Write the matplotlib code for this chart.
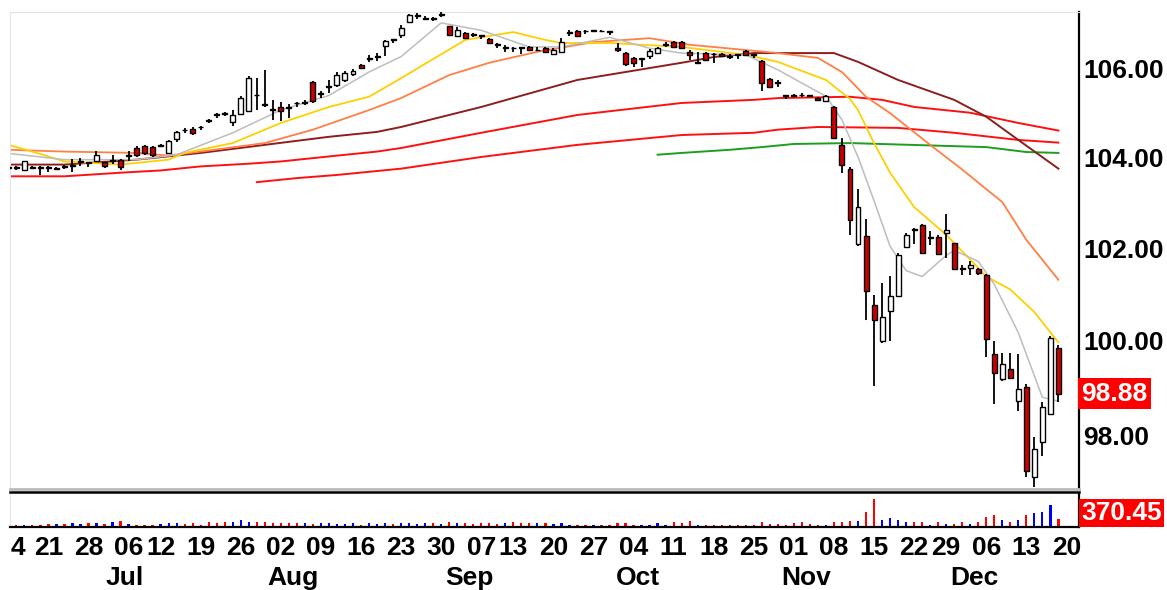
import numpy as np
import pandas as pd
import matplotlib
matplotlib.use("Agg")
import matplotlib.pyplot as plt
from matplotlib.lines import Line2D
from matplotlib.transforms import blended_transform_factory

# trading sessions Jun 14 - Dec 17 2010 (+ Dec 20 for the last axis label)
days = pd.bdate_range("2010-06-14", "2010-12-20")
days = days[~days.isin(pd.to_datetime(["2010-07-05", "2010-09-06", "2010-11-25"]))]

opens = [103.80, 103.79, 103.72, 103.80, 103.80, 103.80, 103.76, 103.82, 103.81, 103.90,
         103.90, 103.93, 103.90, 103.94, 103.96, 104.04, 104.22, 104.26, 104.24, 104.26,
         104.10, 104.42, 104.63, 104.64, 104.70, 104.85, 104.98, 105.00, 104.81, 104.98,
         105.06, 105.42, 105.21, 105.10, 105.13, 105.14, 105.24, 105.24, 105.70, 105.43,
         105.60, 105.64, 105.75, 105.88, 106.10, 106.23, 106.27, 106.52, 106.68, 106.78,
         107.06, 107.20, 107.15, 107.17, 107.23, 106.97, 106.74, 106.81, 106.80, 106.77,
         106.68, 106.57, 106.48, 106.48, 106.49, 106.51, 106.42, 106.47, 106.33, 106.39,
         106.82, 106.86, 106.87, 106.86, 106.87, 106.86, 106.48, 106.37, 106.24, 106.22,
         106.29, 106.36, 106.54, 106.62, 106.62, 106.39, 106.14, 106.36, 106.35, 106.35,
         106.30, 106.33, 106.40, 106.33, 106.17, 105.77, 105.70, 105.40, 105.40, 105.42,
         105.40, 105.34, 105.27, 105.14, 104.29, 103.76, 102.09, 102.28, 100.78, 100.00,
         100.64, 100.97, 102.04, 102.42, 102.51, 102.24, 102.25, 102.33, 102.11, 101.58,
         101.58, 101.55, 101.42, 99.72, 99.20, 99.41, 98.72, 99.01, 97.13, 97.86,
         98.45, 99.86]
highs = [103.82, 103.81, 103.94, 103.82, 103.81, 103.81, 103.80, 103.83, 103.98, 104.00,
         103.91, 104.16, 103.91, 104.07, 103.98, 104.15, 104.26, 104.28, 104.26, 104.32,
         104.40, 104.60, 104.66, 104.68, 104.72, 104.87, 105.00, 105.02, 105.07, 105.38,
         105.84, 105.79, 105.98, 105.30, 105.26, 105.20, 105.26, 105.30, 105.72, 105.50,
         105.76, 105.92, 105.95, 106.00, 106.12, 106.32, 106.36, 106.65, 106.69, 107.00,
         107.26, 107.28, 107.20, 107.18, 107.29, 106.99, 106.95, 106.83, 106.81, 106.78,
         106.70, 106.58, 106.55, 106.49, 106.50, 106.53, 106.50, 106.49, 106.47, 106.70,
         106.88, 106.88, 106.88, 106.89, 106.88, 106.87, 106.58, 106.39, 106.26, 106.25,
         106.45, 106.50, 106.62, 106.64, 106.64, 106.42, 106.38, 106.38, 106.36, 106.37,
         106.34, 106.34, 106.42, 106.34, 106.20, 105.79, 105.75, 105.41, 105.44, 105.46,
         105.41, 105.36, 105.40, 105.16, 104.44, 103.80, 103.30, 102.64, 100.98, 101.25,
         101.40, 101.90, 102.35, 102.44, 102.53, 102.38, 102.30, 102.75, 102.13, 101.65,
         101.72, 101.58, 101.44, 100.00, 99.75, 99.75, 99.72, 99.08, 97.96, 98.70,
         100.10, 99.92]
lows = [103.70, 103.72, 103.70, 103.75, 103.63, 103.68, 103.73, 103.76, 103.68, 103.82,
        103.80, 103.90, 103.78, 103.86, 103.74, 103.93, 104.03, 104.06, 104.02, 104.25,
        104.08, 104.35, 104.55, 104.50, 104.62, 104.78, 104.90, 104.93, 104.72, 104.96,
        105.04, 105.08, 105.15, 104.85, 104.82, 104.90, 105.15, 105.18, 105.22, 105.35,
        105.46, 105.60, 105.70, 105.85, 106.00, 106.15, 106.18, 106.30, 106.60, 106.70,
        107.04, 107.13, 107.13, 107.10, 107.18, 106.76, 106.72, 106.68, 106.72, 106.68,
        106.56, 106.48, 106.38, 106.38, 106.35, 106.41, 106.40, 106.37, 106.31, 106.37,
        106.76, 106.72, 106.80, 106.84, 106.84, 106.78, 106.38, 106.06, 106.05, 106.05,
        106.22, 106.33, 106.50, 106.48, 106.45, 106.20, 106.12, 106.18, 106.14, 106.27,
        106.22, 106.22, 106.30, 106.24, 105.49, 105.57, 105.60, 105.32, 105.36, 105.36,
        105.36, 105.27, 105.25, 104.42, 103.67, 102.29, 102.05, 100.44, 99.05, 99.96,
        100.00, 100.95, 102.02, 102.10, 101.88, 102.07, 101.86, 101.79, 101.54, 101.43,
        101.43, 101.43, 99.66, 98.65, 99.15, 99.20, 98.51, 97.13, 96.92, 97.56,
        98.43, 98.71]
closes = [103.78, 103.78, 103.92, 103.77, 103.78, 103.78, 103.77, 103.79, 103.83, 103.92,
          103.89, 104.07, 103.82, 103.96, 103.80, 104.07, 104.07, 104.11, 104.07, 104.29,
          104.37, 104.57, 104.62, 104.56, 104.68, 104.83, 104.96, 104.98, 104.96, 105.35,
          105.80, 105.40, 105.19, 105.08, 105.06, 105.12, 105.22, 105.26, 105.28, 105.45,
          105.62, 105.87, 105.90, 105.95, 106.03, 106.25, 106.29, 106.63, 106.66, 106.93,
          107.24, 107.22, 107.16, 107.15, 107.25, 106.78, 106.89, 106.70, 106.78, 106.75,
          106.58, 106.55, 106.49, 106.47, 106.48, 106.43, 106.43, 106.39, 106.43, 106.62,
          106.83, 106.76, 106.86, 106.88, 106.86, 106.84, 106.44, 106.11, 106.13, 106.24,
          106.41, 106.47, 106.56, 106.49, 106.47, 106.32, 106.16, 106.20, 106.33, 106.29,
          106.28, 106.31, 106.32, 106.31, 105.68, 105.59, 105.68, 105.38, 105.39, 105.41,
          105.39, 105.29, 105.38, 104.44, 103.85, 102.62, 102.91, 101.07, 100.45, 100.52,
          100.97, 101.85, 102.29, 102.40, 101.90, 102.26, 101.88, 102.40, 101.56, 101.56,
          101.63, 101.47, 100.04, 99.31, 99.50, 99.22, 98.97, 97.25, 97.71, 98.59,
          100.07, 98.88]
volume = [90, 110, 80, 120, 100, 130, 150, 140, 170, 160,
          180, 190, 150, 230, 300, 140, 100, 110, 120, 140,
          180, 200, 150, 170, 120, 220, 200, 230, 260, 330,
          250, 240, 230, 210, 200, 190, 170, 210, 160, 180,
          200, 150, 160, 190, 120, 170, 150, 190, 150, 200,
          210, 160, 190, 170, 150, 230, 200, 190, 150, 170,
          180, 160, 200, 220, 200, 210, 180, 190, 150, 200,
          120, 100,
          82, 82, 82, 115, 197, 197, 82, 82, 115, 197,
          82, 246, 197, 279, 82, 82, 82, 82, 82, 82,
          82, 82, 246, 164, 164, 115, 197, 246, 164, 82,
          82, 246, 246, 279, 279, 738, 1345, 361, 443, 361,
          246, 246, 246, 82, 246, 164, 164, 246, 164, 246,
          492, 574, 361, 246, 361, 574, 656, 738, 1066, 370.45]

gray_idx = [0, 7, 16, 21, 28, 34, 40, 45, 49, 54, 59, 65, 69, 75, 80, 84, 92, 96, 102, 104,
            106, 108, 110, 112, 114, 117, 118, 121, 123, 126, 129, 131]
gray_val = [104.10, 103.96, 103.96, 104.07, 104.56, 105.07, 105.40, 105.93, 106.28, 107.05,
            106.88, 106.50, 106.50, 106.72, 106.47, 106.36, 106.32, 105.98, 105.38, 104.85,
            104.02, 103.05, 102.05, 101.52, 101.39, 101.85, 101.96, 101.72, 101.22, 100.18,
            98.80, 98.72]
yellow_idx = [0, 3, 7, 14, 20, 22, 28, 34, 40, 45, 49, 57, 63, 67, 69, 75, 84, 92, 96, 102,
              105, 106, 108, 110, 113, 117, 120, 122, 125, 128, 131]
yellow_val = [104.29, 104.14, 103.92, 103.85, 103.96, 104.11, 104.33, 104.78, 105.14, 105.37,
              105.79, 106.66, 106.84, 106.66, 106.59, 106.59, 106.50, 106.32, 106.16, 105.75,
              105.32, 105.07, 104.33, 103.67, 102.91, 102.30, 101.76, 101.39, 101.11, 100.62,
              99.97]
orange_idx = [0, 7, 16, 20, 24, 32, 38, 45, 49, 55, 60, 66, 73, 80, 85, 92, 96, 101, 104, 107,
              110, 115, 119, 121, 124, 127, 131]
orange_val = [104.18, 104.14, 104.11, 104.05, 104.14, 104.33, 104.63, 105.07, 105.34, 105.86,
              106.14, 106.39, 106.61, 106.70, 106.55, 106.43, 106.36, 106.25, 105.93, 105.37,
              105.00, 104.29, 103.74, 103.45, 103.02, 102.19, 101.32]
darkred_idx = [0, 7, 16, 24, 32, 40, 46, 49, 59, 71, 84, 88, 93, 103, 106, 111, 118, 122, 126, 131]
darkred_val = [103.85, 103.85, 103.96, 104.11, 104.29, 104.47, 104.58, 104.69, 105.14, 105.75,
               106.14, 106.27, 106.36, 106.36, 106.16, 105.75, 105.30, 104.92, 104.40, 103.76]
red1_idx = [0, 7, 14, 19, 24, 30, 34, 41, 46, 49, 59, 71, 84, 93, 96, 105, 109, 113, 120, 126, 131]
red1_val = [103.59, 103.59, 103.67, 103.72, 103.81, 103.87, 103.92, 104.05, 104.14, 104.22,
            104.56, 104.96, 105.23, 105.30, 105.34, 105.37, 105.30, 105.14, 105.01, 104.78, 104.61]
red2_idx = [31, 36, 41, 45, 49, 59, 71, 84, 93, 96, 101, 111, 118, 126, 131]
red2_val = [103.46, 103.55, 103.62, 103.69, 103.76, 104.02, 104.29, 104.51, 104.56, 104.63,
            104.69, 104.67, 104.56, 104.40, 104.34]
green_idx = [81, 84, 90, 94, 98, 105, 122, 127, 131]
green_val = [104.07, 104.11, 104.18, 104.24, 104.31, 104.33, 104.24, 104.13, 104.11]

price_ticks = [98, 100, 102, 104, 106]
last_price = 98.88

FONT = ["Liberation Sans Narrow", "Liberation Sans", "DejaVu Sans"]
W, H = 1167, 590


def box(l, t, r, b):
    return [l / W, 1 - b / H, (r - l) / W, (b - t) / H]


fig = plt.figure(figsize=(W / 100, H / 100), dpi=100)
ax = fig.add_axes(box(10, 12, 1079, 489))
axv = fig.add_axes(box(10, 494, 1079, 527))
axd = fig.add_axes(box(10, 527, 1167, 590))

# index -> pixel: x = 8.3 + 8.016 * i
ax.set_xlim(0.21, 133.57)
axv.set_xlim(0.21, 133.57)
axd.set_xlim(0.21, 144.55)

# moving averages
ax.plot(red1_idx, red1_val, color="#FF1010", lw=1.4, zorder=1)
ax.plot(red2_idx, red2_val, color="#FF1010", lw=1.4, zorder=1)
ax.plot(green_idx, green_val, color="#1E9E1E", lw=1.4, zorder=1)
ax.plot(darkred_idx, darkred_val, color="#8E1E1E", lw=1.4, zorder=1)
ax.plot(orange_idx, orange_val, color="#FF7F45", lw=1.3, zorder=1)
ax.plot(yellow_idx, yellow_val, color="#FFD000", lw=1.3, zorder=1)
ax.plot(gray_idx, gray_val, color="#BDBDBD", lw=1.1, zorder=1)

# candles
x = np.arange(len(closes))
o, h, l, c = map(np.array, (opens, highs, lows, closes))
up = c >= o
ax.vlines(x, l, h, color="black", lw=1.3, zorder=3)
ax.bar(x, np.maximum(np.abs(c - o), 0.01), bottom=np.minimum(o, c), width=0.62,
       color=np.where(up, "white", "#CC0000"), edgecolor="black", lw=1.0, zorder=4)

ax.set_yscale("log")
ax.set_ylim(96.88, 107.30)
ax.yaxis.tick_right()
ax.set_yticks(price_ticks)
ax.set_yticklabels(["%.2f" % p for p in price_ticks], family=FONT, weight="bold", fontsize=19)
ax.yaxis.set_minor_locator(matplotlib.ticker.NullLocator())
ax.tick_params(axis="y", length=0, pad=3)
ax.set_xticks([])

trans = blended_transform_factory(ax.transAxes, ax.transData)
ax.text(1.002, last_price, "%.2f" % last_price, transform=trans, ha="left", va="center",
        color="white", family=FONT, weight="bold", fontsize=19,
        bbox=dict(boxstyle="square,pad=0.12", fc="#FF0000", ec="none"))

# volume
axv.bar(x, volume, width=0.28, color=np.where(up, "#0000FF", "#FF0000"))
axv.set_ylim(0, 1600)
axv.set_xticks([])
axv.set_yticks([])
axv.text(1.002, 0.42, "%.2f" % volume[-1], transform=axv.transAxes, ha="left", va="center",
         color="white", family=FONT, weight="bold", fontsize=19, clip_on=False,
         bbox=dict(boxstyle="square,pad=0.08", fc="#FF0000", ec="none"))

for a in (ax, axv):
    for side in ("top", "left"):
        a.spines[side].set_color("#E4E4E4")
    a.spines["right"].set_color("black")
    a.spines["right"].set_linewidth(1.6)
ax.spines["bottom"].set_color("#BBBBBB")
ax.spines["bottom"].set_linewidth(2)
axv.spines["top"].set_visible(False)
axv.spines["bottom"].set_color("black")
axv.spines["bottom"].set_linewidth(1.6)

# separator between price and volume panels
fig.add_artist(Line2D([10 / W, 1079 / W], [1 - 491.5 / H] * 2, color="black", lw=1.8))

# date axis
axd.axis("off")
week_start = [i for i in range(len(days)) if i == 0 or days[i].weekday() < days[i - 1].weekday()]
for i in week_start:
    lab = days[i].strftime("%d")
    if i == 0:
        # only the last digit of the first week is visible at the left edge
        axd.text(i + 0.3, 0.667, lab[-1], ha="left", va="center", family=FONT,
                 weight="bold", fontsize=19)
        continue
    axd.text(i, 0.667, lab, ha="center", va="center", family=FONT,
             weight="bold", fontsize=19)
month_first = [i for i in range(1, len(days)) if days[i].month != days[i - 1].month]
for i in month_first:
    axd.text(i + 1.5, 0.19, days[i].strftime("%b"), ha="center", va="center", family=FONT,
             weight="bold", fontsize=19)

fig.savefig("out.png", dpi=100, facecolor="white")
